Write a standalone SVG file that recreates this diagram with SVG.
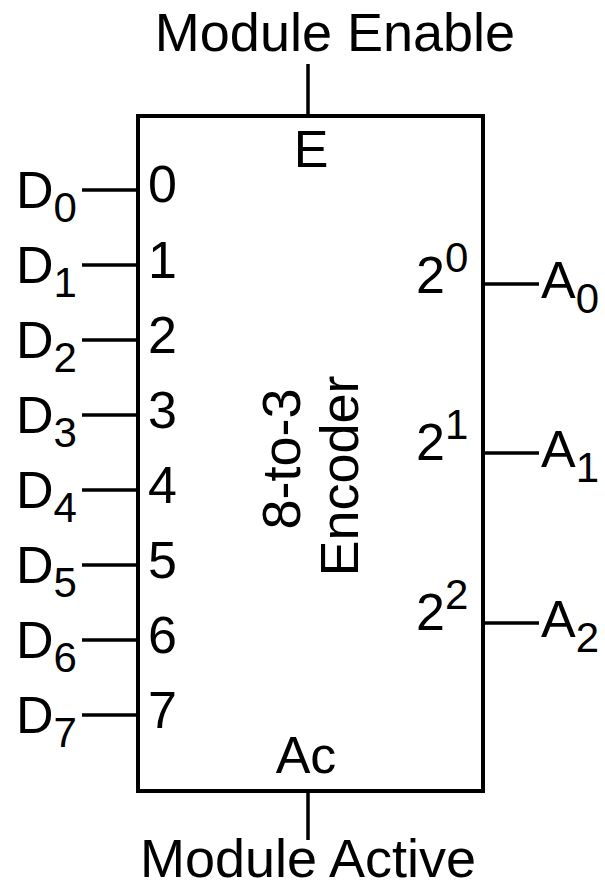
<svg xmlns="http://www.w3.org/2000/svg" width="605" height="885" viewBox="0 0 605 885">
<style>
text{font-family:"Liberation Sans",Arial,sans-serif;font-size:52px;fill:#000}
.t{font-size:54px}
.s{font-size:42px}
.c{text-anchor:middle}
.w{stroke:#000;stroke-width:3.5;fill:none}
.b{stroke:#000;stroke-width:4;fill:#fff}
</style>
<rect width="605" height="885" fill="#fff"/>
<g id="connectors">
<line class="w" x1="308" y1="64" x2="308" y2="116"/>
<line class="w" x1="308" y1="791" x2="308" y2="840"/>
<line class="w" x1="82" y1="190" x2="138" y2="190"/>
<line class="w" x1="82" y1="265" x2="138" y2="265"/>
<line class="w" x1="82" y1="340" x2="138" y2="340"/>
<line class="w" x1="82" y1="415" x2="138" y2="415"/>
<line class="w" x1="82" y1="490" x2="138" y2="490"/>
<line class="w" x1="82" y1="565" x2="138" y2="565"/>
<line class="w" x1="82" y1="640" x2="138" y2="640"/>
<line class="w" x1="82" y1="715" x2="138" y2="715"/>
<line class="w" x1="483" y1="284" x2="539" y2="284"/>
<line class="w" x1="483" y1="453" x2="539" y2="453"/>
<line class="w" x1="483" y1="623" x2="539" y2="623"/>
</g>
<g id="encoder">
<rect class="b" x="138" y="116" width="345" height="675"/>
<text class="c" x="311" y="167">E</text>
<text class="c" x="306" y="773">Ac</text>
<text class="c t" transform="translate(300,459) rotate(-90)">8-to-3</text>
<text class="c t" transform="translate(358,476) rotate(-90)">Encoder</text>
<text x="148" y="202">0</text>
<text x="148" y="278">1</text>
<text x="148" y="353">2</text>
<text x="148" y="428">3</text>
<text x="148" y="503">4</text>
<text x="148" y="578">5</text>
<text x="148" y="653">6</text>
<text x="148" y="728">7</text>
<text x="416" y="293">2<tspan class="s" dy="-21">0</tspan></text>
<text x="416" y="460">2<tspan class="s" dy="-21">1</tspan></text>
<text x="416" y="630">2<tspan class="s" dy="-21">2</tspan></text>
</g>
<g id="module-enable"><text class="c t" x="335" y="51">Module Enable</text></g>
<g id="module-active"><text class="c t" x="308" y="877">Module Active</text></g>
<g id="inputs">
<text x="16" y="208">D<tspan class="s" dy="14">0</tspan></text>
<text x="16" y="283">D<tspan class="s" dy="14">1</tspan></text>
<text x="16" y="358">D<tspan class="s" dy="14">2</tspan></text>
<text x="16" y="433">D<tspan class="s" dy="14">3</tspan></text>
<text x="16" y="508">D<tspan class="s" dy="14">4</tspan></text>
<text x="16" y="583">D<tspan class="s" dy="14">5</tspan></text>
<text x="16" y="658">D<tspan class="s" dy="14">6</tspan></text>
<text x="16" y="733">D<tspan class="s" dy="14">7</tspan></text>
</g>
<g id="outputs">
<text x="541" y="298">A<tspan class="s" dy="15">0</tspan></text>
<text x="541" y="467">A<tspan class="s" dy="15">1</tspan></text>
<text x="541" y="637">A<tspan class="s" dy="15">2</tspan></text>
</g>
</svg>
